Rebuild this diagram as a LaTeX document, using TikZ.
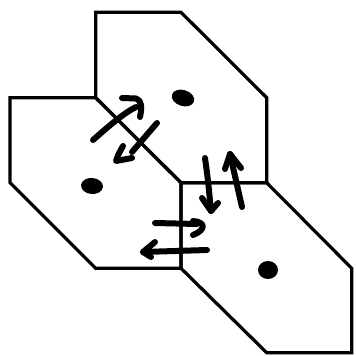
\documentclass[tikz,border=0pt]{standalone}
\begin{document}
\begin{tikzpicture}[x=1pt,y=-1pt,
  cell/.style={line width=3.2pt, line join=miter},
  stroke/.style={line width=6pt, line cap=round, line join=round},
  seed/.style={fill=black}]
\useasboundingbox (0,0) rectangle (356,356);
% hexagon vertices
\coordinate (t1) at (95.7,12.3);
\coordinate (t2) at (181,12.3);
\coordinate (t3) at (266.7,97.7);
\coordinate (t4) at (266.7,182.7);
\coordinate (t5) at (181,182.7);
\coordinate (t6) at (95.7,97.7);
\coordinate (l1) at (10,97.7);
\coordinate (l4) at (181,268.3);
\coordinate (l5) at (95.7,268.3);
\coordinate (l6) at (10,182.7);
\coordinate (r3) at (351.7,268.3);
\coordinate (r4) at (351.7,352.7);
\coordinate (r5) at (266.7,352.7);
% cells
\draw[cell] (t1) -- (t2) -- (t3) -- (t4) -- (t5) -- (t6) -- cycle;
\draw[cell] (l1) -- (t6) -- (t5) -- (l4) -- (l5) -- (l6) -- cycle;
\draw[cell] (t5) -- (t4) -- (r3) -- (r4) -- (r5) -- (l4) -- cycle;
% seeds
\coordinate (s1) at (183,98);
\coordinate (s2) at (92,186);
\coordinate (s3) at (268,270);
\fill[seed, rotate around={-18:(s1)}] (s1) ellipse [x radius=11.5pt, y radius=8pt];
\fill[seed, rotate around={-5:(s2)}] (s2) ellipse [x radius=11pt, y radius=8pt];
\fill[seed] (s3) ellipse [x radius=10pt, y radius=9pt];
% arrow A (up-right)
\coordinate (a0) at (93,140);
\coordinate (a1) at (136,107);
\draw[stroke] (a0) .. controls (110,125) and (124,113) .. (a1);
\draw[stroke] (122,98) -- (136,98.5) .. controls (142,100) and (142,108) .. (140,117);
% arrow B (down-left)
\coordinate (b0) at (157,123);
\coordinate (b1) at (132,152);
\draw[stroke] (b0) -- (b1);
\draw[stroke] (123,146) .. controls (118,155) .. (116,161) -- (132,158);
% arrow C (down)
\coordinate (c0) at (205,158);
\coordinate (c1) at (211,211);
\draw[stroke] (c0) .. controls (208,180) .. (c1);
\draw[stroke] (202,198) -- (c1) -- (218,203);
% arrow D (up)
\coordinate (d0) at (242,207);
\coordinate (d1) at (230,154);
\draw[stroke] (d0) .. controls (236,180) .. (d1);
\draw[stroke] (225,169) -- (d1) -- (241,168);
% arrow E (right)
\coordinate (e0) at (155,223);
\coordinate (e1) at (197,224);
\draw[stroke] (e0) -- (e1);
\draw[stroke] (193,221) .. controls (206,222) and (206,230) .. (193,235);
% arrow F (left)
\coordinate (f0) at (207,250);
\coordinate (f1) at (143,252);
\draw[stroke] (f0) -- (f1);
\draw[stroke] (155,242) -- (f1) -- (151,257);
\end{tikzpicture}
\end{document}
